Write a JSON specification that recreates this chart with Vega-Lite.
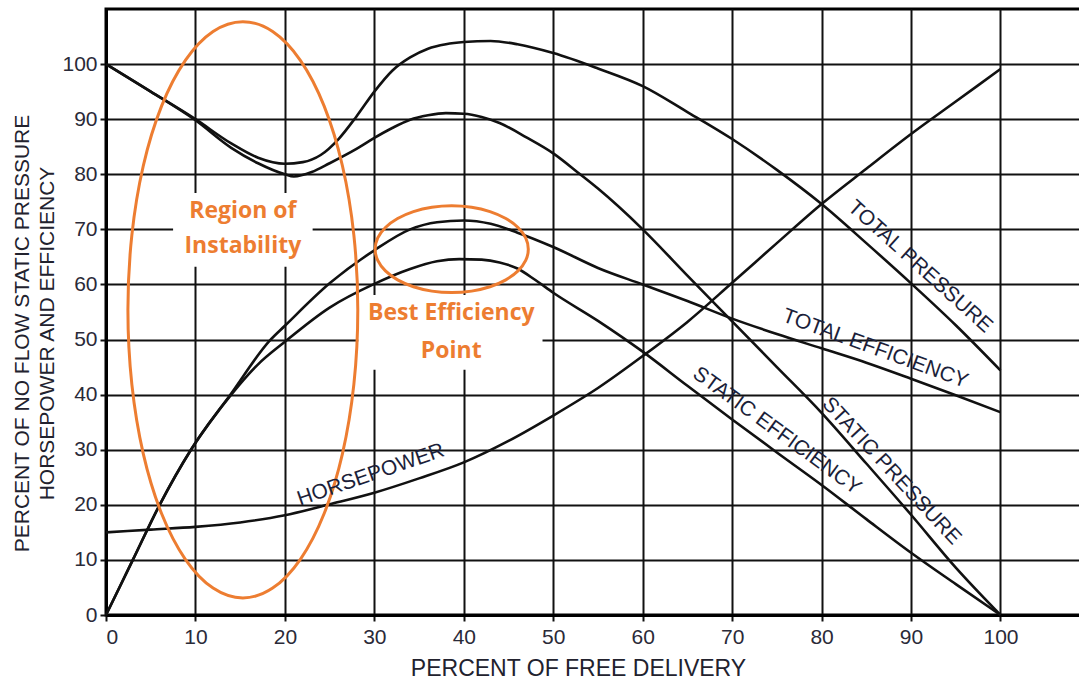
{
  "$schema": "https://vega.github.io/schema/vega-lite/v6.json",
  "width": 975,
  "height": 606,
  "autosize": "none",
  "padding": {"left": 106, "top": 9, "right": 0, "bottom": 64},
  "background": "white",
  "config": {
    "view": {"stroke": "#000", "strokeWidth": 3},
    "axis": {
      "grid": true, "gridColor": "#111", "gridWidth": 2, "gridOpacity": 1,
      "domainColor": "#000", "domainWidth": 3,
      "tickColor": "#111", "tickWidth": 2, "tickSize": 6,
      "labelFont": "Liberation Sans", "labelFontSize": 21, "labelColor": "#2a2a38",
      "titleFont": "Liberation Sans", "titleFontSize": 23, "titleFontWeight": "normal", "titleColor": "#22222e"
    }
  },
  "datasets": {
    "curves": [
      {"s":"Total pressure","x":0,"y":100},{"s":"Total pressure","x":5,"y":95},{"s":"Total pressure","x":10,"y":90},{"s":"Total pressure","x":14,"y":85.6},{"s":"Total pressure","x":17,"y":83},{"s":"Total pressure","x":20,"y":81.9},{"s":"Total pressure","x":22,"y":82.2},{"s":"Total pressure","x":24,"y":83.5},{"s":"Total pressure","x":26,"y":86.4},{"s":"Total pressure","x":28,"y":90.5},{"s":"Total pressure","x":30,"y":95},{"s":"Total pressure","x":32,"y":98.8},{"s":"Total pressure","x":34,"y":101.2},{"s":"Total pressure","x":36,"y":102.8},{"s":"Total pressure","x":38,"y":103.6},{"s":"Total pressure","x":40,"y":104},{"s":"Total pressure","x":43,"y":104.2},{"s":"Total pressure","x":46,"y":103.6},{"s":"Total pressure","x":50,"y":102},{"s":"Total pressure","x":55,"y":99.2},{"s":"Total pressure","x":60,"y":96},{"s":"Total pressure","x":65,"y":91.3},{"s":"Total pressure","x":70,"y":86.4},{"s":"Total pressure","x":75,"y":80.8},{"s":"Total pressure","x":80,"y":74.6},{"s":"Total pressure","x":85,"y":67.5},{"s":"Total pressure","x":90,"y":60.2},{"s":"Total pressure","x":95,"y":52.6},{"s":"Total pressure","x":100,"y":44.4},
      {"s":"Static pressure","x":0,"y":100},{"s":"Static pressure","x":5,"y":95},{"s":"Static pressure","x":10,"y":89.8},{"s":"Static pressure","x":14,"y":84.8},{"s":"Static pressure","x":17,"y":82},{"s":"Static pressure","x":20,"y":80},{"s":"Static pressure","x":21,"y":79.6},{"s":"Static pressure","x":23,"y":80.4},{"s":"Static pressure","x":25,"y":82},{"s":"Static pressure","x":28,"y":84.6},{"s":"Static pressure","x":30,"y":86.6},{"s":"Static pressure","x":32,"y":88.4},{"s":"Static pressure","x":34,"y":89.9},{"s":"Static pressure","x":36,"y":90.7},{"s":"Static pressure","x":38,"y":91.1},{"s":"Static pressure","x":40,"y":91},{"s":"Static pressure","x":42,"y":90.4},{"s":"Static pressure","x":44,"y":89.3},{"s":"Static pressure","x":47,"y":86.7},{"s":"Static pressure","x":50,"y":83.8},{"s":"Static pressure","x":53,"y":80},{"s":"Static pressure","x":55,"y":77.4},{"s":"Static pressure","x":60,"y":70},{"s":"Static pressure","x":65,"y":61.6},{"s":"Static pressure","x":70,"y":53.3},{"s":"Static pressure","x":75,"y":45},{"s":"Static pressure","x":80,"y":36.7},{"s":"Static pressure","x":85,"y":27.5},{"s":"Static pressure","x":90,"y":18.2},{"s":"Static pressure","x":95,"y":8.6},{"s":"Static pressure","x":100,"y":0},
      {"s":"Horsepower","x":0,"y":15},{"s":"Horsepower","x":5,"y":15.5},{"s":"Horsepower","x":10,"y":16},{"s":"Horsepower","x":15,"y":16.8},{"s":"Horsepower","x":20,"y":18.1},{"s":"Horsepower","x":25,"y":20.1},{"s":"Horsepower","x":30,"y":22.2},{"s":"Horsepower","x":35,"y":24.8},{"s":"Horsepower","x":40,"y":27.7},{"s":"Horsepower","x":45,"y":31.6},{"s":"Horsepower","x":50,"y":36.2},{"s":"Horsepower","x":55,"y":41.2},{"s":"Horsepower","x":60,"y":47},{"s":"Horsepower","x":65,"y":53.2},{"s":"Horsepower","x":70,"y":60.3},{"s":"Horsepower","x":75,"y":67.5},{"s":"Horsepower","x":80,"y":74.6},{"s":"Horsepower","x":85,"y":81},{"s":"Horsepower","x":90,"y":87.3},{"s":"Horsepower","x":95,"y":93.2},{"s":"Horsepower","x":100,"y":99.1},
      {"s":"Total efficiency","x":0,"y":0},{"s":"Total efficiency","x":3,"y":10},{"s":"Total efficiency","x":6,"y":20},{"s":"Total efficiency","x":9.5,"y":30},{"s":"Total efficiency","x":14,"y":40.2},{"s":"Total efficiency","x":18.3,"y":49.8},{"s":"Total efficiency","x":20,"y":52.5},{"s":"Total efficiency","x":25,"y":60.2},{"s":"Total efficiency","x":30,"y":66.2},{"s":"Total efficiency","x":34,"y":70},{"s":"Total efficiency","x":37,"y":71.3},{"s":"Total efficiency","x":40,"y":71.6},{"s":"Total efficiency","x":43,"y":71},{"s":"Total efficiency","x":46,"y":69.4},{"s":"Total efficiency","x":50,"y":66.8},{"s":"Total efficiency","x":55,"y":63},{"s":"Total efficiency","x":60,"y":60},{"s":"Total efficiency","x":65,"y":57},{"s":"Total efficiency","x":70,"y":53.8},{"s":"Total efficiency","x":75,"y":51},{"s":"Total efficiency","x":80,"y":48.4},{"s":"Total efficiency","x":85,"y":45.8},{"s":"Total efficiency","x":90,"y":42.9},{"s":"Total efficiency","x":95,"y":39.9},{"s":"Total efficiency","x":100,"y":36.8},
      {"s":"Static efficiency","x":0,"y":0},{"s":"Static efficiency","x":3,"y":10},{"s":"Static efficiency","x":6,"y":20},{"s":"Static efficiency","x":9.5,"y":30},{"s":"Static efficiency","x":14,"y":40},{"s":"Static efficiency","x":17,"y":45.5},{"s":"Static efficiency","x":20,"y":49.6},{"s":"Static efficiency","x":25,"y":55.8},{"s":"Static efficiency","x":30,"y":60.1},{"s":"Static efficiency","x":34,"y":62.8},{"s":"Static efficiency","x":37,"y":64.2},{"s":"Static efficiency","x":39.5,"y":64.6},{"s":"Static efficiency","x":42,"y":64.5},{"s":"Static efficiency","x":44,"y":64},{"s":"Static efficiency","x":46,"y":62.9},{"s":"Static efficiency","x":48,"y":60.8},{"s":"Static efficiency","x":50,"y":58.5},{"s":"Static efficiency","x":55,"y":53.4},{"s":"Static efficiency","x":60,"y":47.8},{"s":"Static efficiency","x":65,"y":41.6},{"s":"Static efficiency","x":70,"y":35.5},{"s":"Static efficiency","x":75,"y":29.5},{"s":"Static efficiency","x":80,"y":23.6},{"s":"Static efficiency","x":85,"y":17.4},{"s":"Static efficiency","x":90,"y":11.3},{"s":"Static efficiency","x":95,"y":5.6},{"s":"Static efficiency","x":100,"y":0}
    ],
    "ellipses": [
      {"e":"instability","i":0,"x":28.15,"y":55.4},{"e":"instability","i":1,"x":27.71,"y":68.95},{"e":"instability","i":2,"x":26.43,"y":81.55},{"e":"instability","i":3,"x":24.39,"y":92.38},{"e":"instability","i":4,"x":21.73,"y":100.69},{"e":"instability","i":5,"x":18.63,"y":105.92},{"e":"instability","i":6,"x":15.3,"y":107.7},{"e":"instability","i":7,"x":11.97,"y":105.92},{"e":"instability","i":8,"x":8.87,"y":100.69},{"e":"instability","i":9,"x":6.21,"y":92.38},{"e":"instability","i":10,"x":4.17,"y":81.55},{"e":"instability","i":11,"x":2.89,"y":68.95},{"e":"instability","i":12,"x":2.45,"y":55.4},{"e":"instability","i":13,"x":2.89,"y":41.85},{"e":"instability","i":14,"x":4.17,"y":29.25},{"e":"instability","i":15,"x":6.21,"y":18.42},{"e":"instability","i":16,"x":8.87,"y":10.11},{"e":"instability","i":17,"x":11.97,"y":4.88},{"e":"instability","i":18,"x":15.3,"y":3.1},{"e":"instability","i":19,"x":18.63,"y":4.88},{"e":"instability","i":20,"x":21.73,"y":10.11},{"e":"instability","i":21,"x":24.39,"y":18.42},{"e":"instability","i":22,"x":26.43,"y":29.25},{"e":"instability","i":23,"x":27.71,"y":41.85},
      {"e":"best","i":0,"x":47.21,"y":66.4},{"e":"best","i":1,"x":46.92,"y":68.44},{"e":"best","i":2,"x":46.06,"y":70.34},{"e":"best","i":3,"x":44.7,"y":71.97},{"e":"best","i":4,"x":42.93,"y":73.22},{"e":"best","i":5,"x":40.87,"y":74.01},{"e":"best","i":6,"x":38.65,"y":74.28},{"e":"best","i":7,"x":36.43,"y":74.01},{"e":"best","i":8,"x":34.37,"y":73.22},{"e":"best","i":9,"x":32.6,"y":71.97},{"e":"best","i":10,"x":31.24,"y":70.34},{"e":"best","i":11,"x":30.38,"y":68.44},{"e":"best","i":12,"x":30.09,"y":66.4},{"e":"best","i":13,"x":30.38,"y":64.36},{"e":"best","i":14,"x":31.24,"y":62.46},{"e":"best","i":15,"x":32.6,"y":60.83},{"e":"best","i":16,"x":34.37,"y":59.58},{"e":"best","i":17,"x":36.43,"y":58.79},{"e":"best","i":18,"x":38.65,"y":58.52},{"e":"best","i":19,"x":40.87,"y":58.79},{"e":"best","i":20,"x":42.93,"y":59.58},{"e":"best","i":21,"x":44.7,"y":60.83},{"e":"best","i":22,"x":46.06,"y":62.46},{"e":"best","i":23,"x":46.92,"y":64.36}
    ],
    "boxes": [
      {"x":7.5,"x2":23.1,"y":63.2,"y2":76.6},
      {"x":28.2,"x2":48.8,"y":44.5,"y2":58.1}
    ],
    "labels": [
      {"t":"TOTAL PRESSURE","x":91.0,"y":63.2},
      {"t":"TOTAL EFFICIENCY","x":86.0,"y":48.3},
      {"t":"STATIC EFFICIENCY","x":75.0,"y":33.4},
      {"t":"STATIC PRESSURE","x":87.8,"y":26.1},
      {"t":"HORSEPOWER","x":29.6,"y":25.4}
    ],
    "notes": [
      {"t":"Region of","x":15.3,"y":72.0},
      {"t":"Instability","x":15.3,"y":65.7},
      {"t":"Best Efficiency","x":38.6,"y":53.5},
      {"t":"Point","x":38.6,"y":46.6}
    ]
  },
  "encoding": {
    "x": {
      "field": "x", "type": "quantitative",
      "scale": {"domain": [0, 109], "nice": false, "zero": false},
      "axis": {
        "values": [0,10,20,30,40,50,60,70,80,90,100],
        "title": "PERCENT OF FREE DELIVERY",
        "labelPadding": 5,
        "titleX": 472, "titleY": 60, "titleAlign": "center", "titleBaseline": "alphabetic", "titleAnchor": null
      }
    },
    "y": {
      "field": "y", "type": "quantitative",
      "scale": {"domain": [0, 110], "nice": false, "zero": false},
      "axis": {
        "values": [0,10,20,30,40,50,60,70,80,90,100],
        "title": ["PERCENT OF NO FLOW STATIC PRESSURE", "HORSEPOWER AND EFFICIENCY"],
        "labelPadding": 3,
        "titleFontSize": 21, "titleLineHeight": 25,
        "titleAngle": -90, "titleX": -74, "titleY": 324, "titleAlign": "center", "titleBaseline": "bottom"
      }
    }
  },
  "layer": [
    {
      "data": {"name": "boxes"},
      "mark": {"type": "rect", "fill": "white", "stroke": null},
      "encoding": {"x2": {"field": "x2"}, "y2": {"field": "y2"}}
    },
    {
      "data": {"name": "curves"},
      "mark": {"type": "line", "interpolate": "monotone", "color": "#111", "strokeWidth": 2.6},
      "encoding": {"detail": {"field": "s"}}
    },
    {
      "data": {"name": "ellipses"},
      "mark": {"type": "line", "interpolate": "cardinal-closed", "color": "#ED7D31", "strokeWidth": 3},
      "encoding": {"detail": {"field": "e"}, "order": {"field": "i", "type": "quantitative"}}
    },
    {
      "data": {"name": "labels"},
      "transform": [{"filter": "datum.t === 'TOTAL PRESSURE'"}],
      "mark": {"type": "text", "angle": 42, "font": "Liberation Sans", "fontSize": 21, "color": "#1c1f3a", "align": "center", "baseline": "middle"},
      "encoding": {"text": {"field": "t"}}
    },
    {
      "data": {"name": "labels"},
      "transform": [{"filter": "datum.t === 'TOTAL EFFICIENCY'"}],
      "mark": {"type": "text", "angle": 20, "font": "Liberation Sans", "fontSize": 21, "color": "#1c1f3a", "align": "center", "baseline": "middle"},
      "encoding": {"text": {"field": "t"}}
    },
    {
      "data": {"name": "labels"},
      "transform": [{"filter": "datum.t === 'STATIC EFFICIENCY'"}],
      "mark": {"type": "text", "angle": 36, "font": "Liberation Sans", "fontSize": 21, "color": "#1c1f3a", "align": "center", "baseline": "middle"},
      "encoding": {"text": {"field": "t"}}
    },
    {
      "data": {"name": "labels"},
      "transform": [{"filter": "datum.t === 'STATIC PRESSURE'"}],
      "mark": {"type": "text", "angle": 47, "font": "Liberation Sans", "fontSize": 21, "color": "#1c1f3a", "align": "center", "baseline": "middle"},
      "encoding": {"text": {"field": "t"}}
    },
    {
      "data": {"name": "labels"},
      "transform": [{"filter": "datum.t === 'HORSEPOWER'"}],
      "mark": {"type": "text", "angle": -19, "font": "Liberation Sans", "fontSize": 21, "color": "#1c1f3a", "align": "center", "baseline": "middle"},
      "encoding": {"text": {"field": "t"}}
    },
    {
      "data": {"name": "notes"},
      "mark": {"type": "text", "font": "Open Sans", "fontWeight": "bold", "fontSize": 23, "color": "#ED7D31", "align": "center", "baseline": "alphabetic"},
      "encoding": {"text": {"field": "t"}}
    }
  ]
}
